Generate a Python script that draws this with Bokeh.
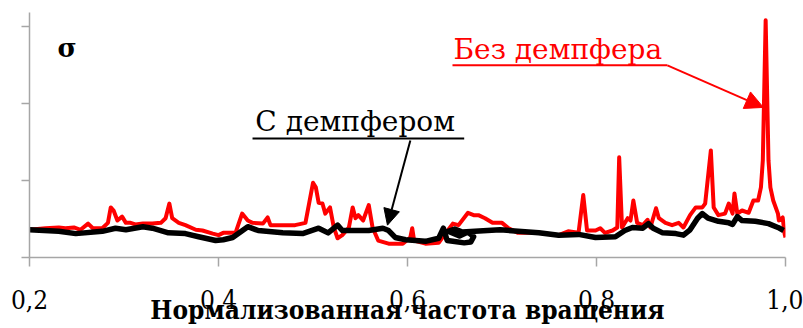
from bokeh.plotting import figure
from bokeh.models import (Range1d, FixedTicker, Label, Arrow, NormalHead)
from bokeh.embed import file_html
from bokeh.resources import INLINE

# Normalised rotation frequency and response sigma (arbitrary units)
freq_no_damper = [
    0.200, 0.217, 0.231, 0.238, 0.247, 0.254, 0.262, 0.267, 0.277, 0.283,
    0.286, 0.289, 0.293, 0.298, 0.302, 0.307, 0.312, 0.320, 0.330, 0.339,
    0.344, 0.348, 0.351, 0.358, 0.365, 0.376, 0.383, 0.394, 0.400, 0.405,
    0.418, 0.425, 0.431, 0.436, 0.447, 0.452, 0.455, 0.468, 0.481, 0.492,
    0.500, 0.503, 0.506, 0.510, 0.513, 0.518, 0.522, 0.526, 0.531, 0.538,
    0.542, 0.545, 0.548, 0.553, 0.559, 0.563, 0.569, 0.580, 0.595, 0.603,
    0.605, 0.607, 0.619, 0.633, 0.640, 0.648, 0.654, 0.664, 0.670, 0.675,
    0.682, 0.690, 0.700, 0.707, 0.717, 0.739, 0.760, 0.770, 0.781, 0.786,
    0.790, 0.799, 0.804, 0.809, 0.817, 0.822, 0.824, 0.827, 0.833, 0.836,
    0.839, 0.843, 0.849, 0.854, 0.857, 0.863, 0.866, 0.873, 0.880, 0.887,
    0.892, 0.899, 0.905, 0.912, 0.915, 0.921, 0.924, 0.929, 0.936, 0.940,
    0.944, 0.946, 0.949, 0.954, 0.961, 0.966, 0.971, 0.974, 0.976, 0.979,
    0.982, 0.984, 0.987, 0.992, 0.993, 0.997, 0.999, 1.000,
]
sigma_no_damper = [
    0.36, 0.38, 0.39, 0.38, 0.39, 0.36, 0.44, 0.38, 0.38, 0.45,
    0.65, 0.61, 0.48, 0.53, 0.45, 0.45, 0.43, 0.44, 0.44, 0.45,
    0.51, 0.70, 0.51, 0.45, 0.42, 0.36, 0.35, 0.31, 0.29, 0.32,
    0.32, 0.57, 0.48, 0.45, 0.44, 0.52, 0.42, 0.42, 0.42, 0.45,
    0.97, 0.91, 0.71, 0.70, 0.57, 0.65, 0.39, 0.25, 0.29, 0.39,
    0.65, 0.51, 0.55, 0.48, 0.68, 0.39, 0.22, 0.18, 0.18, 0.26,
    0.38, 0.22, 0.18, 0.19, 0.31, 0.44, 0.42, 0.58, 0.55, 0.55,
    0.51, 0.45, 0.45, 0.38, 0.32, 0.32, 0.29, 0.34, 0.32, 0.81,
    0.35, 0.35, 0.38, 0.32, 0.35, 0.39, 1.30, 0.39, 0.51, 0.48,
    0.74, 0.45, 0.42, 0.49, 0.39, 0.64, 0.51, 0.45, 0.42, 0.45,
    0.39, 0.55, 0.65, 0.65, 0.70, 1.39, 0.65, 0.55, 0.57, 0.70,
    0.57, 0.83, 0.57, 0.61, 0.58, 0.74, 0.74, 0.91, 1.26, 3.08,
    1.26, 0.91, 0.74, 0.57, 0.48, 0.52, 0.31, 0.26,
]

freq_damper = [
    0.200, 0.231, 0.249, 0.277, 0.291, 0.302, 0.320, 0.330, 0.347, 0.365,
    0.379, 0.397, 0.405, 0.415, 0.431, 0.442, 0.468, 0.489, 0.506, 0.516,
    0.526, 0.531, 0.545, 0.559, 0.574, 0.580, 0.587, 0.598, 0.619, 0.633,
    0.638, 0.642, 0.648, 0.660, 0.667, 0.670, 0.664, 0.655, 0.643, 0.650,
    0.658, 0.698,
    0.739, 0.760, 0.781, 0.799, 0.820, 0.830, 0.838, 0.849, 0.855, 0.860,
    0.870, 0.884, 0.892, 0.899, 0.907, 0.912, 0.918, 0.929, 0.940, 0.944,
    0.949, 0.954, 0.968, 0.982, 0.992, 0.998,
]
sigma_damper = [
    0.36, 0.34, 0.31, 0.34, 0.38, 0.36, 0.40, 0.38, 0.32, 0.31,
    0.27, 0.22, 0.23, 0.26, 0.40, 0.35, 0.32, 0.31, 0.38, 0.32,
    0.42, 0.35, 0.35, 0.35, 0.38, 0.35, 0.26, 0.23, 0.21, 0.25,
    0.38, 0.22, 0.21, 0.19, 0.20, 0.27, 0.33, 0.28, 0.34, 0.37,
    0.33, 0.36,
    0.32, 0.29, 0.30, 0.26, 0.27, 0.35, 0.39, 0.38, 0.44, 0.38,
    0.32, 0.31, 0.29, 0.36, 0.51, 0.57, 0.51, 0.47, 0.45, 0.43,
    0.53, 0.48, 0.47, 0.44, 0.39, 0.35,
]

x_ticks = [0.2, 0.4, 0.6, 0.8, 1.0]
x_tick_labels = ["0,2", "0,4", "0,6", "0,8", "1,0"]
y_ticks = [0, 1, 2, 3]

label_no_damper = "Без демпфера"
label_damper = "С демпфером"
x_title = "Нормализованная частота вращения"

SERIF = "DejaVu Serif"
SERIF_NARROW = "DejaVu Serif Condensed, DejaVu Serif"
AXIS_GREY = "#a6a6a6"

p = figure(width=803, height=328, output_backend="svg", toolbar_location=None,
           x_range=Range1d(0.2, 1.0), y_range=Range1d(0, 3.18),
           min_border_left=29, min_border_right=18,
           min_border_top=12, min_border_bottom=71)
p.outline_line_color = None
p.grid.visible = False
p.background_fill_color = "white"

p.line(freq_no_damper, sigma_no_damper, line_color="#ff0000", line_width=4,
       line_join="round")
p.line(freq_damper, sigma_damper, line_color="black", line_width=5.5,
       line_join="round")

# x axis
xa = p.xaxis[0]
xa.ticker = FixedTicker(ticks=x_ticks)
xa.major_label_overrides = {t: s for t, s in zip(x_ticks, x_tick_labels)}
xa.axis_line_color = AXIS_GREY
xa.axis_line_width = 1.5
xa.major_tick_line_color = AXIS_GREY
xa.major_tick_line_width = 1.5
xa.major_tick_in = 0
xa.major_tick_out = 9
xa.minor_tick_line_color = None
xa.major_label_text_font = SERIF_NARROW
xa.major_label_text_font_size = "26px"
xa.major_label_text_color = "black"
xa.major_label_standoff = 23
xa.axis_label = x_title
xa.axis_label_text_font = SERIF_NARROW
xa.axis_label_text_font_style = "bold"
xa.axis_label_text_font_size = "26px"
xa.axis_label_text_color = "black"
xa.axis_label_standoff = -17

# y axis: ticks only, no tick labels
ya = p.yaxis[0]
ya.ticker = FixedTicker(ticks=y_ticks)
ya.axis_line_color = AXIS_GREY
ya.axis_line_width = 1.5
ya.major_tick_line_color = AXIS_GREY
ya.major_tick_line_width = 1.5
ya.major_tick_in = 0
ya.major_tick_out = 8
ya.minor_tick_line_color = None
ya.major_label_overrides = {t: "" for t in y_ticks}

# sigma symbol
p.add_layout(Label(x=0.2296, y=2.72, text="σ", text_font=SERIF,
                   text_font_style="bold", text_font_size="26px",
                   text_color="black", text_baseline="alphabetic"))

# captions with underline and pointer arrows
p.add_layout(Label(x=0.6487, y=2.70, text=label_no_damper,
                   text_font=SERIF,
                   text_font_size="28px", text_color="#ff0000",
                   text_baseline="alphabetic"))
p.segment(x0=[0.6476], y0=[2.494], x1=[0.875], y1=[2.494],
          line_color="#ff0000", line_width=2)
p.add_layout(Arrow(x_start=0.875, y_start=2.494, x_end=0.9766, y_end=1.948,
                   line_color="#ff0000", line_width=2,
                   end=NormalHead(size=18, fill_color="#ff0000",
                                  line_color="#ff0000")))

p.add_layout(Label(x=0.439, y=1.76, text=label_damper,
                   text_font=SERIF,
                   text_font_size="28px", text_color="black",
                   text_baseline="alphabetic"))
p.segment(x0=[0.436], y0=[1.545], x1=[0.660], y1=[1.545],
          line_color="black", line_width=2)
p.add_layout(Arrow(x_start=0.603, y_start=1.519, x_end=0.5788, y_end=0.42,
                   line_color="black", line_width=2,
                   end=NormalHead(size=16, fill_color="black",
                                  line_color="black")))

open("out.html", "w").write(file_html(p, INLINE))
